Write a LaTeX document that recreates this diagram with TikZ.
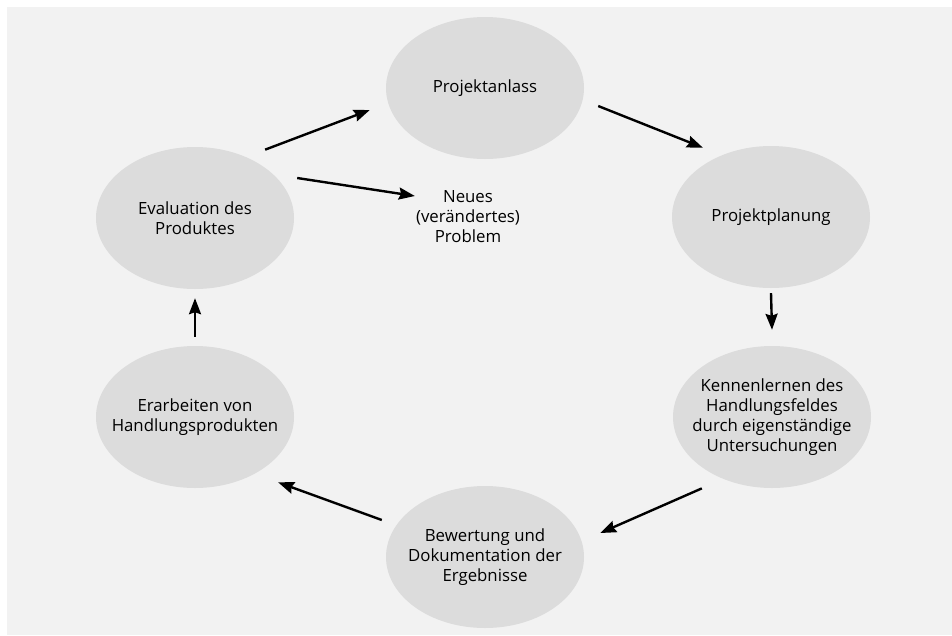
\documentclass[tikz,border=0pt]{standalone}
\usepackage{fontspec}
\setmainfont{Open Sans}
\usepackage{xcolor}
\usetikzlibrary{shapes.geometric, positioning, arrows.meta}
\definecolor{panel}{HTML}{F2F2F2}
\definecolor{oval}{HTML}{DCDCDC}

\begin{document}
\begin{tikzpicture}[x=1pt,y=-1pt,
  phase/.style={ellipse, fill=oval, minimum width=198pt, minimum height=142pt,
    inner xsep=-25pt, inner ysep=0pt, align=center, font=\fontsize{16.8}{20}\selectfont},
  pfeil/.style={-{Stealth[length=16pt,width=12pt,inset=2pt]}, line width=2.4pt}]
\fill[white] (0,0) rectangle (952,635);
\fill[panel] (7,7) rectangle (952,635); %background panel
\node[phase] (anlass) at (485,88) {Projektanlass};
\node[phase] (planung) at (771,217) {Projektplanung};
\node[phase] (kennen) at (772,417) {Kennenlernen des\\Handlungsfeldes\\durch eigenständige\\Untersuchungen};
\node[phase] (bewertung) at (485,557) {Bewertung und\\Dokumentation der\\Ergebnisse};
\node[phase] (erarbeiten) at (195,417) {Erarbeiten von\\Handlungsprodukten};
\node[phase] (evaluation) at (195,218) {Evaluation des\\Produktes};
\node[align=center, inner sep=0pt, font=\fontsize{16.8}{20}\selectfont] (neues) at (468,217) {Neues\\(verändertes)\\Problem};
\draw[pfeil] ([yshift=18pt]evaluation.north east) -- ([xshift=-16pt,yshift=-22pt]anlass.west);
\draw[pfeil] ([xshift=3pt,yshift=40pt]evaluation.east) -- ([xshift=-1pt,yshift=21pt]neues.west);
\draw[pfeil] ([xshift=14pt,yshift=-18pt]anlass.east) -- ([xshift=2pt,yshift=19pt]planung.north west);
\draw[pfeil] ([yshift=-5pt]planung.south) -- ([yshift=16pt]kennen.north);
\draw[pfeil] ([yshift=-21pt]kennen.south west) -- ([xshift=16pt,yshift=24pt]bewertung.east);
\draw[pfeil] ([xshift=-4pt,yshift=37pt]bewertung.west) -- ([xshift=13pt,yshift=-15pt]erarbeiten.south east);
\draw[pfeil] ([yshift=9pt]erarbeiten.north) -- ([yshift=-9pt]evaluation.south);
\end{tikzpicture}
\end{document}
